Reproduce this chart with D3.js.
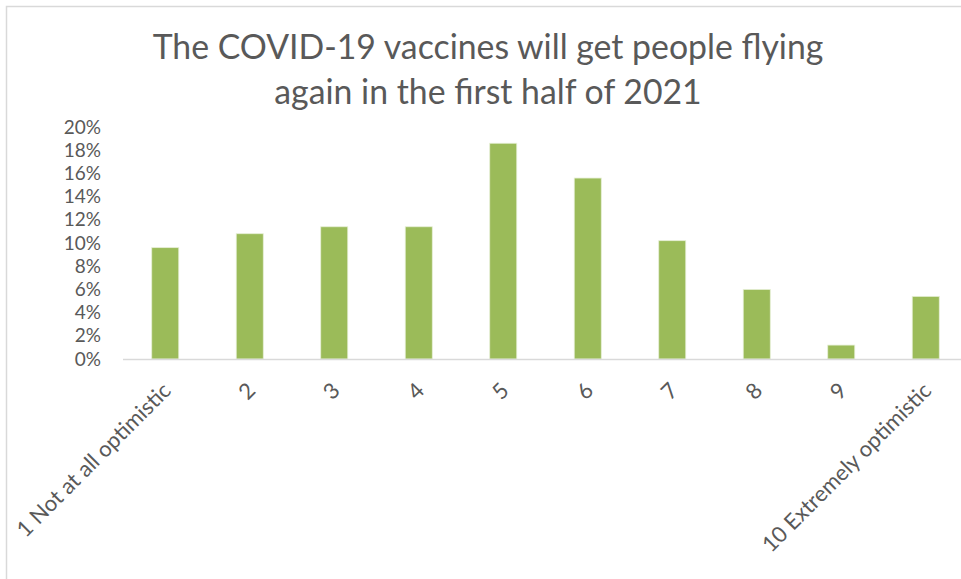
<!DOCTYPE html>
<html>
<head>
<meta charset="utf-8">
<script src="https://cdn.jsdelivr.net/npm/d3@7"></script>
<style>
  html, body { margin: 0; padding: 0; background: #fff; }
  svg { display: block; }
  text { font-family: Lato, "Open Sans", sans-serif; fill: #595959; }
</style>
</head>
<body>
<svg id="chart" width="961" height="579"></svg>
<script>
// Share of respondents per optimism score
const categories = ["1 Not at all optimistic", "2", "3", "4", "5", "6", "7", "8", "9", "10 Extremely optimistic"];
const values = [0.096, 0.108, 0.114, 0.114, 0.186, 0.156, 0.102, 0.060, 0.012, 0.054];
const yTicks = [0, 0.02, 0.04, 0.06, 0.08, 0.10, 0.12, 0.14, 0.16, 0.18, 0.20];
const titleLines = ["The COVID-19 vaccines will get people flying", "again in the first half of 2021"];

const svg = d3.select("#chart");
const W = 961, H = 579;

// outer chart frame (extends past the right and bottom edges)
svg.append("rect")
  .attr("x", 6.5).attr("y", 6.5)
  .attr("width", 1000).attr("height", 1000)
  .attr("fill", "none").attr("stroke", "#d9d9d9").attr("stroke-width", 1.5);

const plot = { left: 123, right: 968, top: 127, bottom: 359 };

const x = d3.scaleBand()
  .domain(categories)
  .range([plot.left, plot.right])
  .paddingInner(0.68)
  .paddingOuter(0.34);

const y = d3.scaleLinear()
  .domain([0, 0.20])
  .range([plot.bottom, plot.top]);

// title
svg.append("g").selectAll("text")
  .data(titleLines)
  .join("text")
  .attr("x", 488)
  .attr("y", (d, i) => 59 + i * 45)
  .attr("text-anchor", "middle")
  .style("font-size", "33.8px")
  .text(d => d);

// y axis labels
const yAxis = d3.axisLeft(y)
  .tickValues(yTicks)
  .tickFormat(d3.format(".0%"))
  .tickSize(0)
  .tickPadding(0);
const yg = svg.append("g")
  .attr("transform", `translate(101,0)`)
  .call(yAxis);
yg.select(".domain").remove();
yg.selectAll("text")
  .attr("fill", "#595959")
  .style("font-size", "19px")
  .style("font-family", "Lato, sans-serif");

// bars
svg.append("g").selectAll("rect")
  .data(values)
  .join("rect")
  .attr("x", (d, i) => x(categories[i]))
  .attr("width", x.bandwidth())
  .attr("y", d => y(d))
  .attr("height", d => y(0) - y(d))
  .attr("fill", "#9bbb59")
  .attr("stroke", "#e6efd6")
  .attr("stroke-width", 0.8);

// category axis line
svg.append("line")
  .attr("x1", plot.left).attr("x2", W)
  .attr("y1", y(0) + 0.5).attr("y2", y(0) + 0.5)
  .attr("stroke", "#d9d9d9").attr("stroke-width", 1.5);

// rotated category labels
const xAxis = d3.axisBottom(x).tickSize(0).tickPadding(0);
const xg = svg.append("g")
  .attr("transform", `translate(0,${y(0)})`)
  .call(xAxis);
xg.select(".domain").remove();
xg.selectAll("text")
  .attr("fill", "#595959")
  .style("font-size", "22px")
  .style("font-family", "Lato, sans-serif")
  .attr("text-anchor", "end")
  .attr("dy", null)
  .attr("y", 0)
  .attr("transform", "translate(7,33) rotate(-45)");
</script>
</body>
</html>
